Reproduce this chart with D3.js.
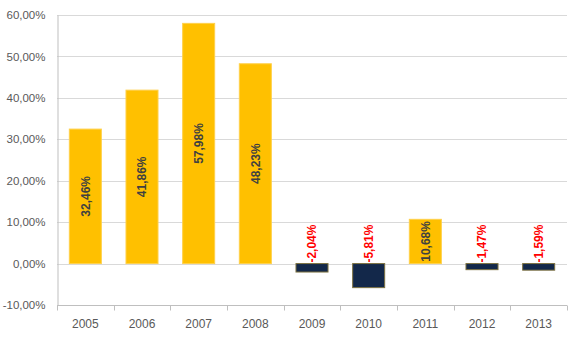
<!DOCTYPE html>
<html><head><meta charset="utf-8">
<script src="https://cdn.jsdelivr.net/npm/d3@7"></script>
<style>
html,body{margin:0;padding:0;background:#fff;}
svg{display:block;font-family:"Liberation Sans",Arial,sans-serif;}
</style></head>
<body><svg id="c" width="580" height="338"></svg>
<script>
const years = ["2005","2006","2007","2008","2009","2010","2011","2012","2013"];
const values = [32.46, 41.86, 57.98, 48.23, -2.04, -5.81, 10.68, -1.47, -1.59];
const yTicks = [-10, 0, 10, 20, 30, 40, 50, 60];

(function () {
const svg = d3.select("#c");
const pL = 57, pR = 567, pT = 15, pB = 305;
const x = d3.scaleBand().domain(years).range([pL, pR]).paddingInner(0.435).paddingOuter(0.2175);
const y = d3.scaleLinear().domain([-10, 60]).range([pB, pT]);
const loc = d3.formatLocale({decimal: ",", thousands: ".", grouping: [3], currency: ["", "€"], minus: "-"});
const f2 = loc.format(".2f");
const fmt = v => f2(v) + "%";

// gridlines
svg.append("g").selectAll("line").data(yTicks.filter(t => t > -10)).join("line")
  .attr("x1", pL).attr("x2", pR)
  .attr("y1", d => Math.round(y(d)) + 0.5).attr("y2", d => Math.round(y(d)) + 0.5)
  .attr("stroke", "#d9d9d9").attr("stroke-width", 1);

// y axis
const ya = d3.axisLeft(y).tickValues(yTicks).tickFormat(fmt).tickSize(0).tickPadding(12);
const gy = svg.append("g").attr("transform", `translate(${pL + 0.5},0)`).call(ya);
gy.select(".domain").attr("stroke", "#bfbfbf");
gy.selectAll("text").attr("fill", "#595959").style("font-size", "11.5px");

// x axis with ticks at category boundaries
const gx = svg.append("g").attr("transform", `translate(0,${pB + 0.5})`);
gx.append("line").attr("x1", pL).attr("x2", pR).attr("stroke", "#bfbfbf");
const step = x.step();
gx.selectAll("line.tk").data(d3.range(years.length + 1)).join("line").attr("class", "tk")
  .attr("x1", i => Math.round(pL + i * step) + 0.5).attr("x2", i => Math.round(pL + i * step) + 0.5)
  .attr("y1", 0).attr("y2", 5).attr("stroke", "#bfbfbf");
gx.selectAll("text").data(years).join("text")
  .attr("x", d => x(d) + x.bandwidth() / 2).attr("y", 22)
  .attr("text-anchor", "middle").attr("fill", "#595959").style("font-size", "12px").text(d => d);

// bars
const data = years.map((yr, i) => ({ yr, v: values[i] }));
svg.append("g").selectAll("rect").data(data).join("rect")
  .attr("x", d => x(d.yr)).attr("width", x.bandwidth())
  .attr("y", d => y(Math.max(0, d.v))).attr("height", d => Math.abs(y(d.v) - y(0)))
  .attr("fill", d => d.v >= 0 ? "#FFC000" : "#13284A")
  .attr("stroke", d => d.v >= 0 ? "#FFD04A" : "#7d7140").attr("stroke-width", 1);

// labels
svg.append("g").selectAll("text").data(data).join("text")
  .attr("transform", d => {
    const cx = x(d.yr) + x.bandwidth() / 2;
    const cy = d.v >= 0 ? (y(d.v) + y(0)) / 2 : y(0) - 1;
    return `translate(${cx},${cy}) rotate(-90)`;
  })
  .attr("text-anchor", d => d.v >= 0 ? "middle" : "start")
  .attr("dy", "0.35em")
  .attr("fill", d => d.v >= 0 ? "#404040" : "#FF0000")
  .style("font-size", "12px").style("font-weight", "bold")
  .text(d => fmt(d.v));
})();
</script>
</body></html>
